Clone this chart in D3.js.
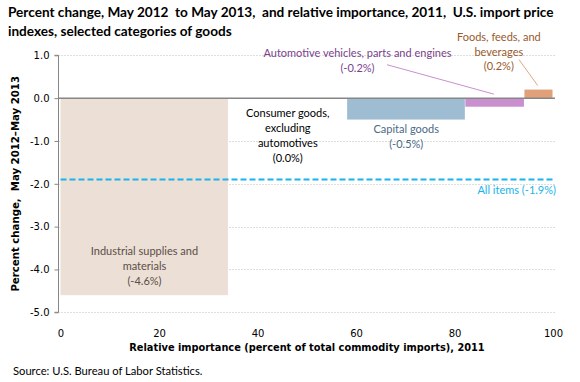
<!DOCTYPE html>
<html><head><meta charset="utf-8">
<script src="https://cdn.jsdelivr.net/npm/d3@7"></script>
<style>
html,body{margin:0;padding:0;background:#fff;}
svg{display:block;}
</style></head>
<body>
<svg id="chart" width="580" height="382"></svg>
<script>
// ---- data ----
const categories = ["Industrial supplies and materials", "Consumer goods, excluding automotives", "Capital goods", "Automotive vehicles, parts and engines", "Foods, feeds, and beverages"];
const importance = [34.1, 24.1, 24.0, 12.0, 5.8];   // relative importance, 2011 (percent)
const pctChange = [-4.6, 0.0, -0.5, -0.2, 0.2];     // percent change May 2012 - May 2013
const allItems = -1.9;
const yTicks = [1.0, 0.0, -1.0, -2.0, -3.0, -4.0, -5.0];
const xTicks = [0, 20, 40, 60, 80, 100];
const labelLines = [
  ["Industrial supplies and", "materials"],
  ["Consumer goods,", "excluding", "automotives"],
  ["Capital goods"],
  ["Automotive vehicles, parts and engines"],
  ["Foods, feeds, and", "beverages"]
];

// ---- styles ----
const barColors = ["#ebdfd6", "#ebdfd6", "#9ebcd2", "#c98fcf", "#e0a07a"];
const textColors = ["#5b4e46", "#000000", "#4a6a86", "#7b3f8c", "#995a2c"];
const leaderColors = [null, null, null, "#c98fcf", "#e4a584"];

const loc = d3.formatLocale({ decimal: ".", thousands: ",", grouping: [3], currency: ["$", ""], minus: "-" });
const f1 = loc.format(".1f");

const svg = d3.select("#chart");
const x = d3.scaleLinear().domain([0, 100]).range([60.5, 553]);
const y = d3.scaleLinear().domain([-5, 1]).range([312.3, 55.3]);
const plotLeft = 58.5, plotRight = 555;

// cumulative positions
const starts = [];
importance.reduce((acc, w, i) => { starts[i] = acc; return acc + w; }, 0);
const bars = categories.map((c, i) => ({ cat: c, x0: starts[i], x1: starts[i] + importance[i], v: pctChange[i], i }));

// title
const title = svg.append("g").attr("font-family", "Lato, 'Open Sans', sans-serif").attr("font-weight", "bold").attr("font-size", "13.6px").attr("fill", "#000");
title.append("text").attr("x", 8).attr("y", 17).attr("xml:space", "preserve").text("Percent change, May 2012  to May 2013,  and relative importance, 2011,  U.S. import price");
title.append("text").attr("x", 8).attr("y", 36).text("indexes, selected categories of goods");

// gridlines
svg.append("g").selectAll("line").data(yTicks.filter(t => t !== 0)).join("line")
  .attr("x1", plotLeft).attr("x2", plotRight)
  .attr("y1", d => Math.round(y(d)) + 0.5).attr("y2", d => Math.round(y(d)) + 0.5)
  .attr("stroke", "#bdbdbd").attr("stroke-width", 1).attr("stroke-dasharray", "1,2");

// bars
svg.append("g").selectAll("rect").data(bars.filter(b => b.v !== 0)).join("rect")
  .attr("x", d => x(d.x0)).attr("width", d => x(d.x1) - x(d.x0) - 0.5)
  .attr("y", d => y(Math.max(0, d.v))).attr("height", d => Math.abs(y(d.v) - y(0)))
  .attr("fill", d => barColors[d.i]);

// zero line
svg.append("line").attr("x1", plotLeft).attr("x2", plotRight)
  .attr("y1", y(0)).attr("y2", y(0)).attr("stroke", "#868686").attr("stroke-width", 1.5);

// all items line
svg.append("line").attr("x1", x(0)).attr("x2", x(100))
  .attr("y1", y(allItems)).attr("y2", y(allItems))
  .attr("stroke", "#19b4ec").attr("stroke-width", 2).attr("stroke-dasharray", "6,3");
svg.append("text").attr("x", x(100) + 3).attr("y", y(allItems) + 14).attr("text-anchor", "end")
  .attr("font-family", "Lato, sans-serif").attr("font-size", "11px").attr("fill", "#19b4ec")
  .text(`All items (${f1(allItems)}%)`);

// y axis
const yAxis = d3.axisLeft(y).tickValues(yTicks).tickFormat(f1).tickSize(4).tickPadding(5);
const gy = svg.append("g").attr("transform", `translate(${plotLeft},0)`).call(yAxis);
gy.select(".domain").attr("stroke", "#868686").attr("d", `M-4,${y(1)}H0V${y(-5)}H-4`);
gy.selectAll(".tick line").attr("stroke", "#868686");
gy.selectAll(".tick text").attr("font-family", "'DejaVu Sans', Verdana, sans-serif").attr("font-size", "10px").attr("fill", "#000");

// x axis
const xAxis = d3.axisBottom(x).tickValues(xTicks).tickSize(0).tickPadding(18).tickFormat(loc.format("d"));
const gx = svg.append("g").attr("transform", `translate(0,${y(-5)})`).call(xAxis);
gx.select(".domain").remove();
gx.selectAll(".tick text").attr("font-family", "'DejaVu Sans', Verdana, sans-serif").attr("font-size", "10px").attr("fill", "#000");

// axis titles
svg.append("text").attr("transform", `translate(19,${y(-2)}) rotate(-90)`).attr("text-anchor", "middle")
  .attr("font-family", "'DejaVu Sans', Verdana, sans-serif").attr("font-weight", "bold").attr("font-size", "11.3px")
  .style("font-stretch", "condensed").attr("xml:space", "preserve")
  .text("Percent change,  May 2012–May 2013");
svg.append("text").attr("x", 307).attr("y", 351).attr("text-anchor", "middle")
  .attr("font-family", "'DejaVu Sans', Verdana, sans-serif").attr("font-weight", "bold").attr("font-size", "10.9px")
  .style("font-stretch", "condensed")
  .text("Relative importance (percent of total commodity imports), 2011");

// source
svg.append("text").attr("x", 13).attr("y", 375).attr("font-family", "Lato, sans-serif").attr("font-size", "11.2px").attr("fill", "#000")
  .text("Source: U.S. Bureau of Labor Statistics.");

// category labels (anchor positions in data units)
const labelAnchor = [
  { xv: d => (d.x0 + d.x1) / 2, yv: -3.58 },
  { xv: d => (d.x0 + d.x1) / 2, yv: -0.35 },
  { xv: d => (d.x0 + d.x1) / 2, yv: -0.72 },
  { xv: d => 60.3, yv: 1.05 },
  { xv: d => 89.0, yv: 1.43 }
];
const lineH = 14.8;
const lbl = svg.append("g").attr("font-family", "Lato, sans-serif").attr("font-size", "11px").attr("text-anchor", "middle");
bars.forEach((b, i) => {
  const lines = labelLines[i].concat([`(${f1(b.v)}%)`]);
  const cx = x(labelAnchor[i].xv(b));
  const cy = y(labelAnchor[i].yv);
  const t = lbl.append("text").attr("fill", textColors[i]);
  lines.forEach((ln, k) => t.append("tspan").attr("x", cx).attr("y", cy + 4 + k * lineH).text(ln));
});

// leader lines
const leaders = [
  { i: 3, from: [x(66.3), y(0.78)] },
  { i: 4, from: [x(93.1), y(0.9)] }
];
leaders.forEach(l => {
  const b = bars[l.i];
  svg.append("line").attr("x1", l.from[0]).attr("y1", l.from[1])
    .attr("x2", x((b.x0 + b.x1) / 2) - 1).attr("y2", y(Math.max(0, b.v)) - 4)
    .attr("stroke", leaderColors[l.i]).attr("stroke-width", 1);
});
</script>
</body></html>
